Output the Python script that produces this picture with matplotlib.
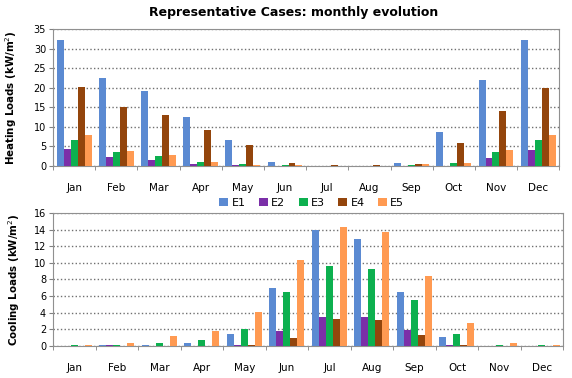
import numpy as np
import matplotlib.pyplot as plt

months = ['Jan', 'Feb', 'Mar', 'Apr', 'May', 'Jun', 'Jul', 'Aug', 'Sep', 'Oct', 'Nov', 'Dec']
cases = ['E1', 'E2', 'E3', 'E4', 'E5']

# heating loads (kW/m2), one list per case
heat_e1 = [32.2, 22.5, 19.2, 12.6, 6.6, 1.0, 0.1, 0.05, 0.8, 8.7, 22.1, 32.2]
heat_e2 = [4.3, 2.4, 1.5, 0.6, 0.2, 0.05, 0.05, 0.0, 0.05, 0.1, 2.0, 4.2]
heat_e3 = [6.6, 3.6, 2.5, 1.0, 0.4, 0.2, 0.0, 0.0, 0.2, 0.8, 3.6, 6.6]
heat_e4 = [20.1, 15.0, 13.0, 9.2, 5.4, 0.7, 0.2, 0.25, 0.4, 5.8, 14.0, 19.9]
heat_e5 = [7.9, 3.8, 2.7, 1.0, 0.3, 0.2, 0.1, 0.1, 0.4, 0.7, 4.0, 7.9]

# cooling loads (kW/m2)
cool_e1 = [0.05, 0.1, 0.1, 0.3, 1.5, 7.0, 14.0, 12.9, 6.5, 1.1, 0.0, 0.0]
cool_e2 = [0.0, 0.1, 0.0, 0.0, 0.1, 1.8, 3.5, 3.5, 1.9, 0.1, 0.0, 0.0]
cool_e3 = [0.1, 0.1, 0.4, 0.7, 2.0, 6.5, 9.6, 9.2, 5.5, 1.45, 0.1, 0.1]
cool_e4 = [0.0, 0.0, 0.0, 0.05, 0.1, 0.9, 3.3, 3.1, 1.3, 0.1, 0.0, 0.0]
cool_e5 = [0.1, 0.4, 1.2, 1.8, 4.1, 10.3, 14.3, 13.7, 8.4, 2.8, 0.4, 0.1]

heating = [heat_e1, heat_e2, heat_e3, heat_e4, heat_e5]
cooling = [cool_e1, cool_e2, cool_e3, cool_e4, cool_e5]
colors = ['#5B8AD2', '#7B2FA8', '#0DB04F', '#93450C', '#FF9A52']

fig = plt.figure(figsize=(5.72, 3.78), dpi=100)
ax1 = fig.add_axes([0.0927, 0.561, 0.885, 0.362])
ax2 = fig.add_axes([0.0927, 0.0847, 0.892, 0.352])

x = np.arange(len(months))
w = 0.165


def draw(ax, data, ymax, ystep, ylabel):
    for i, (vals, c) in enumerate(zip(data, colors)):
        ax.bar(x + (i - 2) * w, vals, w, color=c, label=cases[i], zorder=3)
    ax.set_xlim(-0.5, len(months) - 0.5)
    ax.set_ylim(0, ymax)
    ax.set_yticks(np.arange(0, ymax + 0.1, ystep))
    ax.set_xticks(x)
    ax.set_xticklabels(months, fontsize=7.5)
    ax.set_xticks(np.arange(-0.5, len(months)), minor=True)
    ax.tick_params(axis='x', which='major', length=0, pad=12)
    ax.tick_params(axis='x', which='minor', length=3, color='#808080')
    ax.tick_params(axis='y', labelsize=7, length=3, color='#808080', pad=2)
    ax.grid(axis='y', linestyle=':', color='#707070', linewidth=1, zorder=0)
    for s in ax.spines.values():
        s.set_color('#909090')
    ax.set_ylabel(ylabel, fontsize=7.4, fontweight='bold')


draw(ax1, heating, 35, 5, 'Heating Loads (kW/m$^2$)')
draw(ax2, cooling, 16, 2, 'Cooling Loads (kW/m$^2$)')
ax1.yaxis.set_label_coords(-0.068, 0.5)
ax2.yaxis.set_label_coords(-0.06, 0.5)

fig.suptitle('Representative Cases: monthly evolution', x=0.514, y=0.985,
             fontsize=9, fontweight='bold')

h, l = ax1.get_legend_handles_labels()
fig.legend(h, l, loc='center', bbox_to_anchor=(0.545, 0.463), ncol=5, frameon=False,
           fontsize=8, handlelength=0.8, handleheight=0.8, handletextpad=0.3,
           columnspacing=1.2)

fig.savefig('out.png', dpi=100)
